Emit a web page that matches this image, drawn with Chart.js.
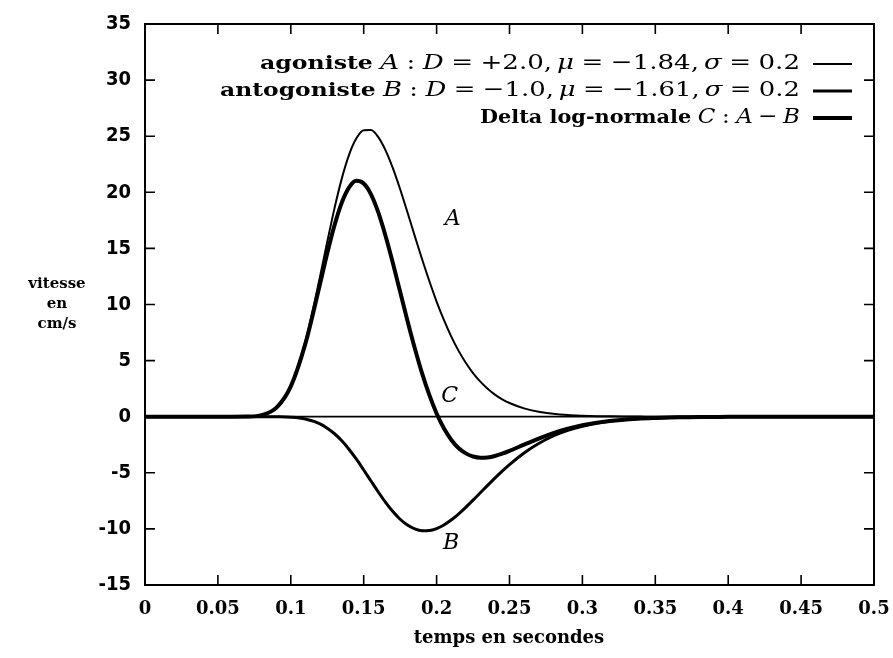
<!DOCTYPE html>
<html>
<head>
<meta charset="utf-8">
<script src="https://cdn.jsdelivr.net/npm/chart.js@4"></script>
<style>
  html, body { margin: 0; padding: 0; background: #fff; }
  #chart { display: block; }
</style>
</head>
<body>
<canvas id="chart" width="893" height="658"></canvas>
<script>
// temps en secondes
const times = [
  0, 0.01, 0.02, 0.03, 0.04, 0.05, 0.06, 0.07, 0.08, 0.09,
  0.10, 0.11, 0.12, 0.125, 0.13, 0.135, 0.14, 0.145, 0.15, 0.155,
  0.16, 0.165, 0.17, 0.175, 0.18, 0.185, 0.19, 0.195, 0.20, 0.205,
  0.21, 0.215, 0.22, 0.225, 0.23, 0.235, 0.24, 0.245, 0.25, 0.26,
  0.27, 0.28, 0.29, 0.30, 0.31, 0.32, 0.33, 0.34, 0.35, 0.36,
  0.37, 0.38, 0.39, 0.40, 0.42, 0.44, 0.46, 0.48, 0.50
];

// agoniste A
const agonisteA = [
  0, 0, 0, 0, 0, 0, 0, 0.01, 0.14, 0.79,
  2.75, 6.72, 12.45, 15.59, 18.59, 21.24, 23.36, 24.81, 25.53, 25.55,
  24.92, 23.74, 22.15, 20.27, 18.22, 16.12, 14.05, 12.09, 10.26, 8.62,
  7.16, 5.89, 4.81, 3.89, 3.12, 2.49, 1.97, 1.55, 1.22, 0.74,
  0.44, 0.26, 0.15, 0.09, 0.05, 0.03, 0.02, 0.01, 0, 0,
  0, 0, 0, 0, 0, 0, 0, 0, 0
];

// antogoniste B
const antagonisteB = [
  0, 0, 0, 0, 0, 0, 0, 0, 0, -0.01,
  -0.05, -0.21, -0.64, -1.02, -1.52, -2.15, -2.92, -3.79, -4.75, -5.73,
  -6.71, -7.63, -8.45, -9.14, -9.66, -10.00, -10.17, -10.15, -9.97, -9.65,
  -9.21, -8.68, -8.08, -7.44, -6.78, -6.12, -5.47, -4.85, -4.27, -3.23,
  -2.39, -1.72, -1.22, -0.85, -0.58, -0.39, -0.26, -0.17, -0.11, -0.07,
  -0.05, -0.03, -0.02, -0.01, 0, 0, 0, 0, 0
];

// delta log-normale C
const deltaC = [
  0, 0, 0, 0, 0, 0, 0, 0.01, 0.14, 0.78,
  2.70, 6.51, 11.81, 14.57, 17.07, 19.09, 20.44, 21.02, 20.78, 19.82,
  18.21, 16.11, 13.70, 11.13, 8.56, 6.12, 3.88, 1.94, 0.29, -1.03,
  -2.05, -2.79, -3.27, -3.55, -3.66, -3.63, -3.50, -3.30, -3.05, -2.49,
  -1.95, -1.46, -1.07, -0.76, -0.53, -0.36, -0.24, -0.16, -0.11, -0.07,
  -0.05, -0.03, -0.02, -0.01, 0, 0, 0, 0, 0
];

const xTicks = [0, 0.05, 0.1, 0.15, 0.2, 0.25, 0.3, 0.35, 0.4, 0.45, 0.5];
const yTicks = [-15, -10, -5, 0, 5, 10, 15, 20, 25, 30, 35];

const serif = "'DejaVu Serif', 'Liberation Serif', serif";
const sans = "'DejaVu Sans Condensed', 'Liberation Sans', sans-serif";

function toPoints(ys) {
  return times.map((t, i) => ({ x: t, y: ys[i] }));
}

// legende : [texte, style, espace avant], debut de ligne voulu
const legendRows = [
  { width: 2, start: 260, segs: [['agoniste', 'b', 0], ['A', 'i', 6], [':', 'r', 6], ['D', 'i', 6], ['=', 'r', 6], ['+2.0,', 'r', 6],
      ['\u03bc', 'i', 4], ['=', 'r', 6], ['\u22121.84,', 'r', 6], ['\u03c3', 'i', 4], ['=', 'r', 6], ['0.2', 'r', 6]] },
  { width: 3, start: 220, segs: [['antogoniste', 'b', 0], ['B', 'i', 6], [':', 'r', 6], ['D', 'i', 6], ['=', 'r', 6], ['\u22121.0,', 'r', 6],
      ['\u03bc', 'i', 4], ['=', 'r', 6], ['\u22121.61,', 'r', 6], ['\u03c3', 'i', 4], ['=', 'r', 6], ['0.2', 'r', 6]] },
  { width: 4, start: 480, segs: [['Delta log-normale', 'b', 0], ['C', 'i', 6], [':', 'r', 6], ['A', 'i', 6], ['\u2212', 'r', 5], ['B', 'i', 5]] }
];

function segFont(style) {
  if (style === 'b') return 'bold 19px ' + serif;
  if (style === 'i') return 'italic 21px ' + serif;
  return '21px ' + serif;
}

function rowWidth(ctx, row) {
  let w = 0;
  row.segs.forEach(([s, st, g]) => { ctx.font = segFont(st); w += g + ctx.measureText(s).width; });
  return w;
}

const framePlugin = {
  id: 'frame',
  beforeDatasetsDraw(chart) {
    const { ctx, chartArea: a, scales } = chart;
    ctx.save();
    // ligne zero
    const y0 = scales.y.getPixelForValue(0);
    ctx.strokeStyle = '#000';
    ctx.lineWidth = 1.8;
    ctx.beginPath();
    ctx.moveTo(a.left, y0);
    ctx.lineTo(a.right, y0);
    ctx.stroke();
    ctx.restore();
  },
  afterDraw(chart) {
    const { ctx, chartArea: a, scales } = chart;
    ctx.save();
    ctx.strokeStyle = '#000';
    ctx.lineWidth = 2;
    ctx.strokeRect(a.left, a.top, a.right - a.left, a.bottom - a.top);

    // petites graduations vers l'interieur
    const tl = 10;
    ctx.lineWidth = 1.6;
    ctx.beginPath();
    xTicks.forEach(v => {
      const px = scales.x.getPixelForValue(v);
      ctx.moveTo(px, a.bottom); ctx.lineTo(px, a.bottom - tl);
      ctx.moveTo(px, a.top); ctx.lineTo(px, a.top + tl);
    });
    yTicks.forEach(v => {
      const py = scales.y.getPixelForValue(v);
      ctx.moveTo(a.left, py); ctx.lineTo(a.left + tl, py);
      ctx.moveTo(a.right, py); ctx.lineTo(a.right - tl, py);
    });
    ctx.stroke();

    // titres des axes
    ctx.fillStyle = '#000';
    ctx.textAlign = 'center';
    ctx.textBaseline = 'middle';
    ctx.font = 'bold 18px ' + serif;
    ctx.fillText('temps en secondes', 509, 638);
    ctx.font = 'bold 15px ' + serif;
    ctx.fillText('vitesse', 57, 284);
    ctx.fillText('en', 57, 304);
    ctx.fillText('cm/s', 57, 324);

    // legende, etiree comme la figure scannee
    const textRight = 800;
    const baselines = [69, 96, 123];
    legendRows.forEach((row, r) => {
      const w = rowWidth(ctx, row);
      const sx = Math.min(1.35, Math.max(0.85, (textRight - row.start) / w));
      ctx.save();
      ctx.translate(textRight - w * sx, baselines[r]);
      ctx.scale(sx, 1);
      ctx.textAlign = 'left';
      ctx.textBaseline = 'alphabetic';
      let x = 0;
      row.segs.forEach(([s, st, g]) => {
        ctx.font = segFont(st);
        x += g;
        ctx.fillText(s, x, 0);
        x += ctx.measureText(s).width;
      });
      ctx.restore();
      ctx.lineWidth = row.width;
      ctx.beginPath();
      ctx.moveTo(813, baselines[r] - 5);
      ctx.lineTo(852, baselines[r] - 5);
      ctx.stroke();
    });

    // lettres sur les courbes
    ctx.font = 'italic 22px ' + serif;
    ctx.textAlign = 'center';
    ctx.textBaseline = 'middle';
    ctx.fillText('A', scales.x.getPixelForValue(0.211), scales.y.getPixelForValue(17.6));
    ctx.fillText('C', scales.x.getPixelForValue(0.209), scales.y.getPixelForValue(1.8));
    ctx.fillText('B', scales.x.getPixelForValue(0.21), scales.y.getPixelForValue(-11.3));
    ctx.restore();
  }
};

new Chart(document.getElementById('chart'), {
  type: 'line',
  data: {
    datasets: [
      { label: 'A', data: toPoints(agonisteA), borderColor: '#000', borderWidth: 2 },
      { label: 'B', data: toPoints(antagonisteB), borderColor: '#000', borderWidth: 3 },
      { label: 'C', data: toPoints(deltaC), borderColor: '#000', borderWidth: 4 }
    ]
  },
  options: {
    responsive: false,
    animation: false,
    events: [],
    layout: { padding: { top: 24, right: 19, left: 0, bottom: 0 } },
    elements: {
      point: { radius: 0 },
      line: { cubicInterpolationMode: 'monotone', fill: false, borderCapStyle: 'round', borderJoinStyle: 'round' }
    },
    plugins: { legend: { display: false }, tooltip: { enabled: false } },
    scales: {
      x: {
        type: 'linear',
        min: 0,
        max: 0.5,
        afterFit(scale) {
          scale.height = 73;
          scale.paddingLeft = 0;
          scale.paddingRight = 0;
        },
        afterBuildTicks(scale) { scale.ticks = xTicks.map(v => ({ value: v })); },
        grid: { display: false, drawTicks: false },
        border: { display: false },
        ticks: {
          padding: 14,
          color: '#000',
          maxRotation: 0,
          autoSkip: false,
          font: { family: serif, size: 18, weight: 'bold' },
          callback: v => String(Math.round(v * 100) / 100)
        }
      },
      y: {
        min: -15,
        max: 35,
        afterFit(scale) {
          scale.width = 145;
          scale.paddingTop = 0;
          scale.paddingBottom = 0;
        },
        afterBuildTicks(scale) { scale.ticks = yTicks.map(v => ({ value: v })); },
        grid: { display: false, drawTicks: false },
        border: { display: false },
        ticks: {
          padding: 14,
          color: '#000',
          autoSkip: false,
          font: { family: sans, size: 20, weight: 'bold' },
          callback: v => String(v)
        }
      }
    }
  },
  plugins: [framePlugin]
});
</script>
</body>
</html>
